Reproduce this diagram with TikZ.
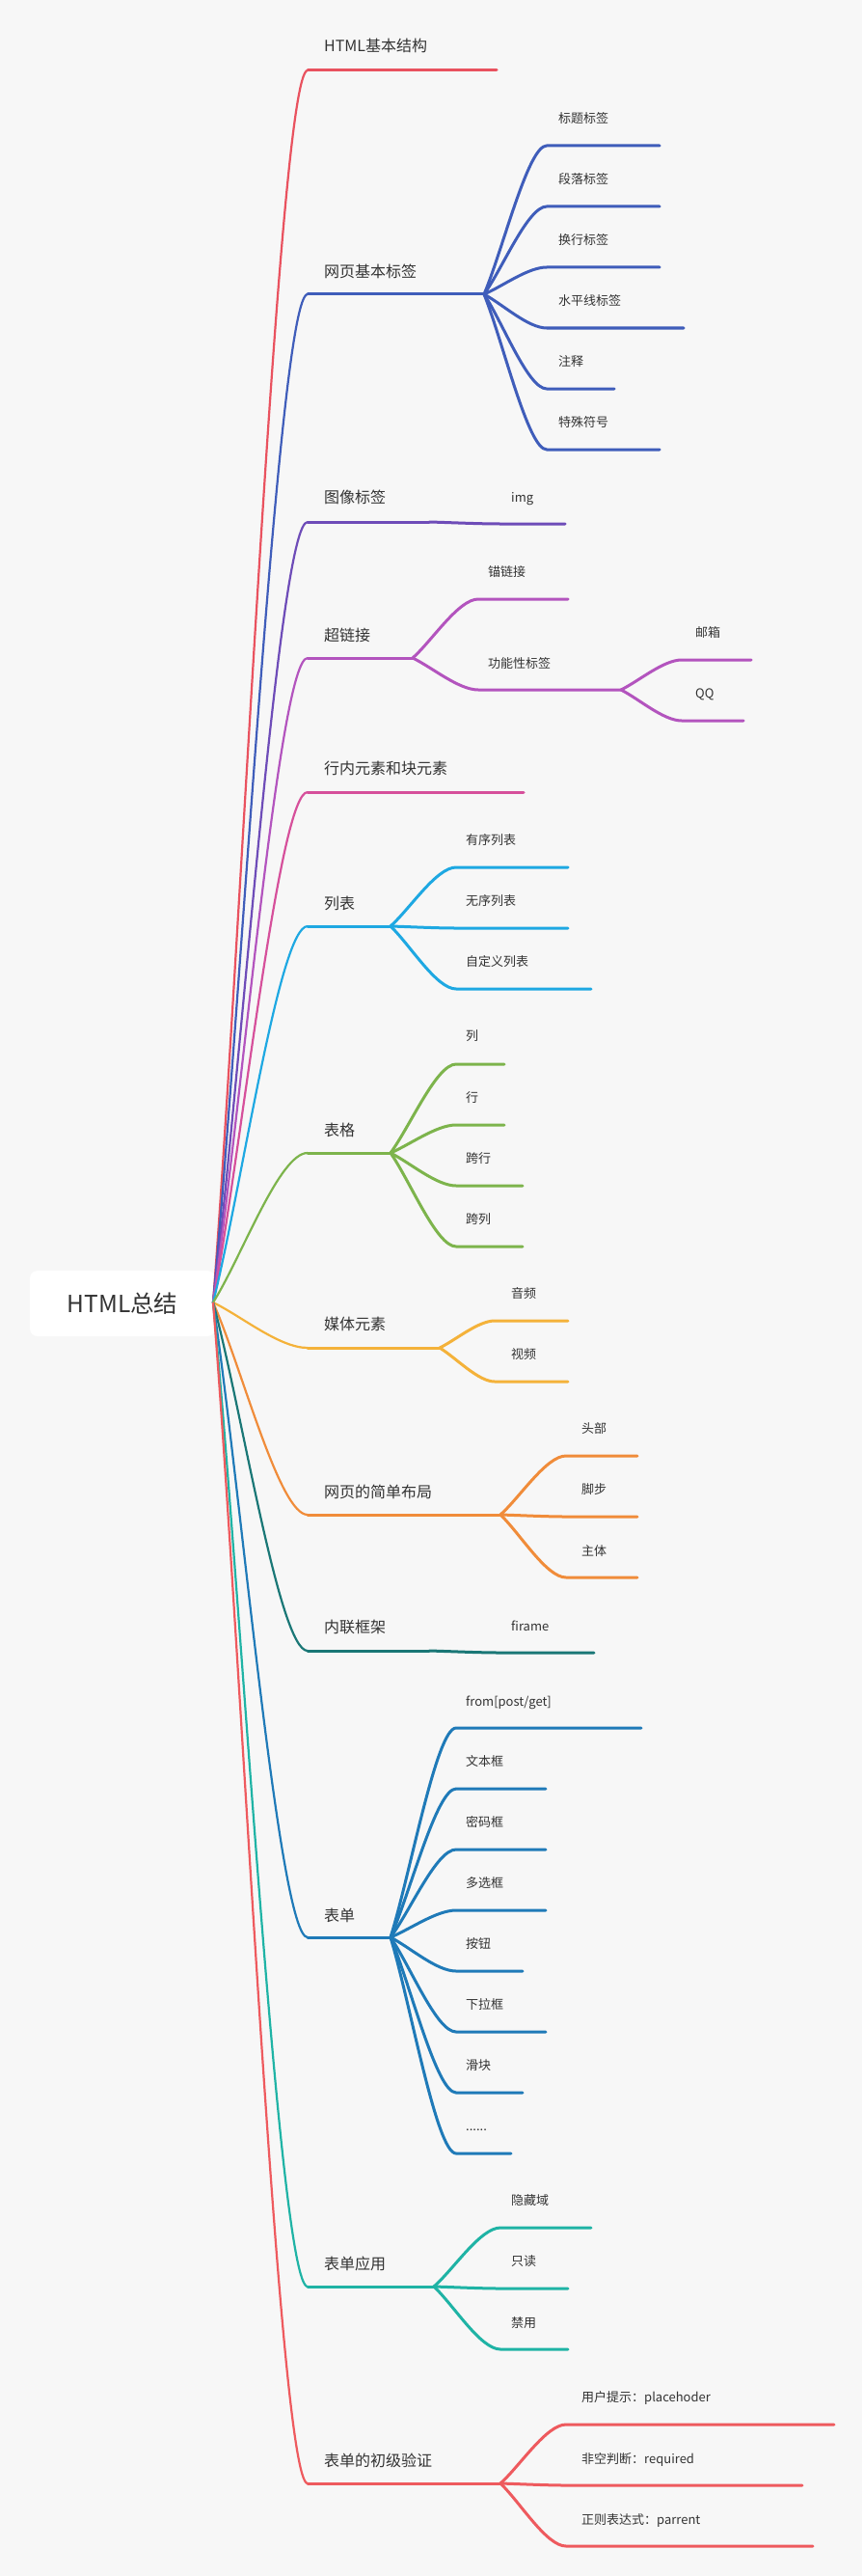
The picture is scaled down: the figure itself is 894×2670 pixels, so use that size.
\documentclass[tikz,border=0pt]{standalone}
\usepackage{fontspec}
\setmainfont{Noto Sans CJK SC}
\usetikzlibrary{calc,positioning}

\definecolor{bg}{HTML}{F7F7F7}
\definecolor{ink}{HTML}{333333}
\definecolor{redA}{HTML}{E9525F}
\definecolor{blueA}{HTML}{3F5DBA}
\definecolor{purple}{HTML}{6E4CB8}
\definecolor{magenta}{HTML}{B354BE}
\definecolor{pinkA}{HTML}{D6509B}
\definecolor{cyanA}{HTML}{1EA8E2}
\definecolor{greenA}{HTML}{7DB44C}
\definecolor{yellowA}{HTML}{F4B23A}
\definecolor{orangeA}{HTML}{F08C3A}
\definecolor{tealB}{HTML}{1A7776}
\definecolor{blueB}{HTML}{1F7AB8}
\definecolor{tealA}{HTML}{1FB3A5}
\definecolor{redB}{HTML}{EE5A5E}

\tikzset{
  bough/.style={to path={.. controls ($(\tikztostart)!0.3!(\tikztotarget)$)
      and ($(\tikztotarget)!0.3!(\tikztotarget -| \tikztostart)$) .. (\tikztotarget)}},
}

\begin{document}
\begin{tikzpicture}[x=1pt, y=-1pt,
  rootbox/.style={fill=white, rounded corners=8pt, minimum width=192pt, minimum height=68pt,
    inner sep=0pt, text=ink, font=\fontsize{24.5}{24.5}\selectfont},
  topic/.style={anchor=west, inner sep=0pt, text height=0.88em, text depth=0.12em,
    yshift=-2pt, text=ink, font=\fontsize{16}{16}\selectfont},
  leaf/.style={topic, font=\fontsize{13}{13}\selectfont},
  trunk/.style={line width=2.2pt},
  twig/.style={line width=3pt, line cap=round}
]
\fill[bg] (0,0) rectangle (894,2670);
\useasboundingbox (0,0) rectangle (894,2670);

% -------- Raiz --------
\node[rootbox] (root) at (127,1351) {HTML总结};
\coordinate (rt) at (221,1350);

% -------- HTML基本结构 --------
\coordinate (b1) at (319,73); \coordinate (e1) at (515,73);
\node[topic] (t1) at (336,48) {HTML基本结构};
\draw[trunk, redA] (rt) to[bough] (b1);
\draw[twig, redA] (b1) -- (e1);

% -------- 网页基本标签 --------
\coordinate (b2) at (319,305); \coordinate (f2) at (502,305);
\node[topic] (t2) at (336,282) {网页基本标签};
\draw[trunk, blueA] (rt) to[bough] (b2);
\draw[twig, blueA] (b2) -- (f2);
\coordinate (s21) at (567,151); \coordinate (e21) at (684,151);
\coordinate (s22) at (567,214); \coordinate (e22) at (684,214);
\coordinate (s23) at (567,277); \coordinate (e23) at (684,277);
\coordinate (s24) at (567,340); \coordinate (e24) at (709,340);
\coordinate (s25) at (567,403); \coordinate (e25) at (637,403);
\coordinate (s26) at (567,466); \coordinate (e26) at (684,466);
\node[leaf] (l21) at (579,122) {标题标签};
\node[leaf] (l22) at (579,185) {段落标签};
\node[leaf] (l23) at (579,248) {换行标签};
\node[leaf] (l24) at (579,311) {水平线标签};
\node[leaf] (l25) at (579,374) {注释};
\node[leaf] (l26) at (579,437) {特殊符号};
\draw[twig, blueA] (f2) to[bough] (s21) -- (e21);
\draw[twig, blueA] (f2) to[bough] (s22) -- (e22);
\draw[twig, blueA] (f2) to[bough] (s23) -- (e23);
\draw[twig, blueA] (f2) to[bough] (s24) -- (e24);
\draw[twig, blueA] (f2) to[bough] (s25) -- (e25);
\draw[twig, blueA] (f2) to[bough] (s26) -- (e26);

% -------- 图像标签 --------
\coordinate (b3) at (319,541); \coordinate (f3) at (445,541);
\node[topic] (t3) at (336,516) {图像标签};
\draw[trunk, purple] (rt) to[bough] (b3);
\draw[twig, purple] (b3) -- (f3);
\coordinate (s31) at (519,543); \coordinate (e31) at (586,543);
\node[leaf] (l31) at (530,515) {img};
\draw[twig, purple] (f3) to[bough] (s31) -- (e31);

% -------- 超链接 --------
\coordinate (b4) at (319,682); \coordinate (f4) at (428,682);
\node[topic] (t4) at (336,659) {超链接};
\draw[trunk, magenta] (rt) to[bough] (b4);
\draw[twig, magenta] (b4) -- (f4);
\coordinate (s41) at (496,621); \coordinate (e41) at (589,621);
\coordinate (s42) at (496,715); \coordinate (f42) at (644,715);
\node[leaf] (l41) at (506,592) {锚链接};
\node[leaf] (l42) at (506,687) {功能性标签};
\draw[twig, magenta] (f4) to[bough] (s41) -- (e41);
\draw[twig, magenta] (f4) to[bough] (s42) -- (f42);
\coordinate (s421) at (707,684); \coordinate (e421) at (779,684);
\coordinate (s422) at (707,747); \coordinate (e422) at (771,747);
\node[leaf] (l421) at (721,655) {邮箱};
\node[leaf] (l422) at (721,718) {QQ};
\draw[twig, magenta] (f42) to[bough] (s421) -- (e421);
\draw[twig, magenta] (f42) to[bough] (s422) -- (e422);

% -------- 行内元素和块元素 --------
\coordinate (b5) at (319,821); \coordinate (e5) at (543,821);
\node[topic] (t5) at (336,797) {行内元素和块元素};
\draw[trunk, pinkA] (rt) to[bough] (b5);
\draw[twig, pinkA] (b5) -- (e5);

% -------- 列表 --------
\coordinate (b6) at (319,960); \coordinate (f6) at (405,960);
\node[topic] (t6) at (336,937) {列表};
\draw[trunk, cyanA] (rt) to[bough] (b6);
\draw[twig, cyanA] (b6) -- (f6);
\coordinate (s61) at (473,899); \coordinate (e61) at (589,899);
\coordinate (s62) at (473,962); \coordinate (e62) at (589,962);
\coordinate (s63) at (473,1025); \coordinate (e63) at (613,1025);
\node[leaf] (l61) at (483,870) {有序列表};
\node[leaf] (l62) at (483,933) {无序列表};
\node[leaf] (l63) at (483,996) {自定义列表};
\draw[twig, cyanA] (f6) to[bough] (s61) -- (e61);
\draw[twig, cyanA] (f6) to[bough] (s62) -- (e62);
\draw[twig, cyanA] (f6) to[bough] (s63) -- (e63);

% -------- 表格 --------
\coordinate (b7) at (319,1195); \coordinate (f7) at (405,1195);
\node[topic] (t7) at (336,1172) {表格};
\draw[trunk, greenA] (rt) to[bough] (b7);
\draw[twig, greenA] (b7) -- (f7);
\coordinate (s71) at (473,1103); \coordinate (e71) at (523,1103);
\coordinate (s72) at (473,1166); \coordinate (e72) at (523,1166);
\coordinate (s73) at (473,1229); \coordinate (e73) at (542,1229);
\coordinate (s74) at (473,1292); \coordinate (e74) at (542,1292);
\node[leaf] (l71) at (483,1073) {列};
\node[leaf] (l72) at (483,1137) {行};
\node[leaf] (l73) at (483,1200) {跨行};
\node[leaf] (l74) at (483,1263) {跨列};
\draw[twig, greenA] (f7) to[bough] (s71) -- (e71);
\draw[twig, greenA] (f7) to[bough] (s72) -- (e72);
\draw[twig, greenA] (f7) to[bough] (s73) -- (e73);
\draw[twig, greenA] (f7) to[bough] (s74) -- (e74);

% -------- 媒体元素 --------
\coordinate (b8) at (319,1397); \coordinate (f8) at (456,1397);
\node[topic] (t8) at (336,1373) {媒体元素};
\draw[trunk, yellowA] (rt) to[bough] (b8);
\draw[twig, yellowA] (b8) -- (f8);
\coordinate (s81) at (513,1369); \coordinate (e81) at (589,1369);
\coordinate (s82) at (513,1432); \coordinate (e82) at (589,1432);
\node[leaf] (l81) at (530,1340) {音频};
\node[leaf] (l82) at (530,1403) {视频};
\draw[twig, yellowA] (f8) to[bough] (s81) -- (e81);
\draw[twig, yellowA] (f8) to[bough] (s82) -- (e82);

% -------- 网页的简单布局 --------
\coordinate (b9) at (319,1570); \coordinate (f9) at (519,1570);
\node[topic] (t9) at (336,1547) {网页的简单布局};
\draw[trunk, orangeA] (rt) to[bough] (b9);
\draw[twig, orangeA] (b9) -- (f9);
\coordinate (s91) at (587,1509); \coordinate (e91) at (661,1509);
\coordinate (s92) at (587,1572); \coordinate (e92) at (661,1572);
\coordinate (s93) at (587,1635); \coordinate (e93) at (661,1635);
\node[leaf] (l91) at (603,1480) {头部};
\node[leaf] (l92) at (603,1543) {脚步};
\node[leaf] (l93) at (603,1607) {主体};
\draw[twig, orangeA] (f9) to[bough] (s91) -- (e91);
\draw[twig, orangeA] (f9) to[bough] (s92) -- (e92);
\draw[twig, orangeA] (f9) to[bough] (s93) -- (e93);

% -------- 内联框架 --------
\coordinate (b10) at (319,1711); \coordinate (f10) at (445,1711);
\node[topic] (t10) at (336,1687) {内联框架};
\draw[trunk, tealB] (rt) to[bough] (b10);
\draw[twig, tealB] (b10) -- (f10);
\coordinate (s101) at (519,1713); \coordinate (e101) at (616,1713);
\node[leaf] (l101) at (530,1685) {firame};
\draw[twig, tealB] (f10) to[bough] (s101) -- (e101);

% -------- 表单 --------
\coordinate (b11) at (319,2008); \coordinate (f11) at (405,2008);
\node[topic] (t11) at (336,1986) {表单};
\draw[trunk, blueB] (rt) to[bough] (b11);
\draw[twig, blueB] (b11) -- (f11);
\coordinate (s111) at (473,1791); \coordinate (e111) at (665,1791);
\coordinate (s112) at (473,1854); \coordinate (e112) at (566,1854);
\coordinate (s113) at (473,1917); \coordinate (e113) at (566,1917);
\coordinate (s114) at (473,1980); \coordinate (e114) at (566,1980);
\coordinate (s115) at (473,2043); \coordinate (e115) at (542,2043);
\coordinate (s116) at (473,2106); \coordinate (e116) at (566,2106);
\coordinate (s117) at (473,2169); \coordinate (e117) at (542,2169);
\coordinate (s118) at (473,2232); \coordinate (e118) at (530,2232);
\node[leaf] (l111) at (483,1763) {from[post/get]};
\node[leaf] (l112) at (483,1825) {文本框};
\node[leaf] (l113) at (483,1888) {密码框};
\node[leaf] (l114) at (483,1951) {多选框};
\node[leaf] (l115) at (483,2014) {按钮};
\node[leaf] (l116) at (483,2077) {下拉框};
\node[leaf] (l117) at (483,2140) {滑块};
\node[leaf] (l118) at (483,2203) {......};
\draw[twig, blueB] (f11) to[bough] (s111) -- (e111);
\draw[twig, blueB] (f11) to[bough] (s112) -- (e112);
\draw[twig, blueB] (f11) to[bough] (s113) -- (e113);
\draw[twig, blueB] (f11) to[bough] (s114) -- (e114);
\draw[twig, blueB] (f11) to[bough] (s115) -- (e115);
\draw[twig, blueB] (f11) to[bough] (s116) -- (e116);
\draw[twig, blueB] (f11) to[bough] (s117) -- (e117);
\draw[twig, blueB] (f11) to[bough] (s118) -- (e118);

% -------- 表单应用 --------
\coordinate (b12) at (319,2370); \coordinate (f12) at (450,2370);
\node[topic] (t12) at (336,2347) {表单应用};
\draw[trunk, tealA] (rt) to[bough] (b12);
\draw[twig, tealA] (b12) -- (f12);
\coordinate (s121) at (519,2309); \coordinate (e121) at (613,2309);
\coordinate (s122) at (519,2372); \coordinate (e122) at (589,2372);
\coordinate (s123) at (519,2435); \coordinate (e123) at (589,2435);
\node[leaf] (l121) at (530,2280) {隐藏域};
\node[leaf] (l122) at (530,2343) {只读};
\node[leaf] (l123) at (530,2407) {禁用};
\draw[twig, tealA] (f12) to[bough] (s121) -- (e121);
\draw[twig, tealA] (f12) to[bough] (s122) -- (e122);
\draw[twig, tealA] (f12) to[bough] (s123) -- (e123);

% -------- 表单的初级验证 --------
\coordinate (b13) at (319,2574); \coordinate (f13) at (519,2574);
\node[topic] (t13) at (336,2551) {表单的初级验证};
\draw[trunk, redB] (rt) to[bough] (b13);
\draw[twig, redB] (b13) -- (f13);
\coordinate (s131) at (587,2513); \coordinate (e131) at (865,2513);
\coordinate (s132) at (587,2576); \coordinate (e132) at (832,2576);
\coordinate (s133) at (587,2639); \coordinate (e133) at (843,2639);
\node[leaf] (l131) at (603,2484) {用户提示：placehoder};
\node[leaf] (l132) at (603,2548) {非空判断：required};
\node[leaf] (l133) at (603,2611) {正则表达式：parrent};
\draw[twig, redB] (f13) to[bough] (s131) -- (e131);
\draw[twig, redB] (f13) to[bough] (s132) -- (e132);
\draw[twig, redB] (f13) to[bough] (s133) -- (e133);

\end{tikzpicture}
\end{document}
